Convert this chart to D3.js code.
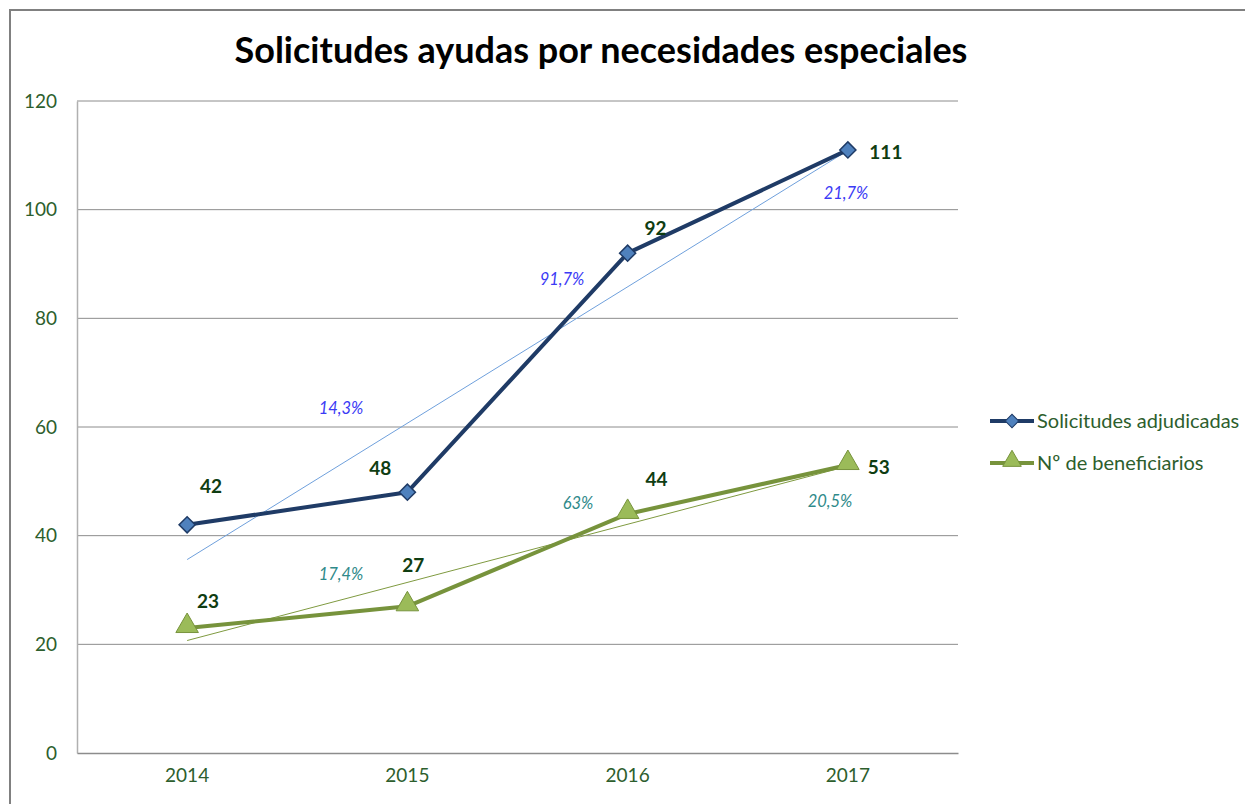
<!DOCTYPE html>
<html><head><meta charset="utf-8">
<script src="https://cdn.jsdelivr.net/npm/d3@7"></script>
<style>body{margin:0;background:#fff}svg{display:block}</style>
</head><body>
<svg id="c" width="1245" height="804"></svg>
<script>
const years = ["2014","2015","2016","2017"];
const solicitudes = [42, 48, 92, 111];
const beneficiarios = [23, 27, 44, 53];
const yTicks = [0, 20, 40, 60, 80, 100, 120];
// trend lines (value at first and last category)
const trendSolic = [35.6, 110.9];
const trendBenef = [20.7, 52.8];
// growth labels
const growthSolic = ["14,3%", "91,7%", "21,7%"];
const growthBenef = ["17,4%", "63%", "20,5%"];
const seriesNames = ["Solicitudes adjudicadas", "Nº de beneficiarios"];

const svg = d3.select("#c");
const font = "Lato, 'Open Sans', sans-serif";
const plotL = 77, plotR = 958, plotT = 101, plotB = 753;

// outer border
svg.append("rect").attr("x",10).attr("y",10).attr("width",1260).attr("height",820)
  .attr("fill","#fff").attr("stroke","#808080").attr("stroke-width",2);

svg.append("text").attr("x",601).attr("y",63).attr("text-anchor","middle")
  .attr("font-family",font).attr("font-weight","bold").attr("font-size",36).attr("fill","#000")
  .text("Solicitudes ayudas por necesidades especiales");

const x = d3.scaleBand().domain(years).range([plotL, plotR]);
const y = d3.scaleLinear().domain([0,120]).range([plotB, plotT]);
const cx = d => x(d) + x.bandwidth()/2;

// gridlines
svg.append("g").selectAll("line").data(yTicks.filter(t=>t>0)).join("line")
  .attr("x1",plotL).attr("x2",plotR).attr("y1",d=>y(d)).attr("y2",d=>y(d))
  .attr("stroke","#8c8c8c").attr("stroke-width",1);

// axes
const yAxis = svg.append("g").attr("transform",`translate(${plotL},0)`)
  .call(d3.axisLeft(y).tickValues(yTicks).tickSize(0).tickPadding(20));
yAxis.select(".domain").attr("stroke","#b0b0b0").attr("stroke-width",1.5);
yAxis.selectAll("text").attr("font-family",font).attr("font-size",19).attr("fill","#2d5e2d");

const xAxis = svg.append("g").attr("transform",`translate(0,${plotB})`)
  .call(d3.axisBottom(x).tickSize(0).tickPadding(16));
xAxis.select(".domain").attr("stroke","#8c8c8c").attr("stroke-width",1.5);
xAxis.selectAll("text").attr("font-family",font).attr("font-size",19).attr("fill","#2d5e2d");

// trend lines
svg.append("line").attr("x1",cx(years[0])).attr("x2",cx(years[3]))
  .attr("y1",y(trendSolic[0])).attr("y2",y(trendSolic[1]))
  .attr("stroke","#6fa0dc").attr("stroke-width",1);
svg.append("line").attr("x1",cx(years[0])).attr("x2",cx(years[3]))
  .attr("y1",y(trendBenef[0])).attr("y2",y(trendBenef[1]))
  .attr("stroke","#7f9a40").attr("stroke-width",1);

const line = d3.line().x((d,i)=>cx(years[i])).y(d=>y(d));
svg.append("path").datum(solicitudes).attr("d",line).attr("fill","none")
  .attr("stroke","#1f3b66").attr("stroke-width",4).attr("stroke-linejoin","round");
svg.append("path").datum(beneficiarios).attr("d",line).attr("fill","none")
  .attr("stroke","#77933c").attr("stroke-width",4).attr("stroke-linejoin","round");

svg.append("g").selectAll("path").data(solicitudes).join("path")
  .attr("transform",(d,i)=>`translate(${cx(years[i])},${y(d)}) rotate(45)`)
  .attr("d",d3.symbol().type(d3.symbolSquare).size(130))
  .attr("fill","#4f81bd").attr("stroke","#1f3b66").attr("stroke-width",1.5);
const tri = d3.symbol().type(d3.symbolTriangle).size(220);
svg.append("g").selectAll("path").data(beneficiarios).join("path")
  .attr("transform",(d,i)=>`translate(${cx(years[i])},${y(d)-2})`)
  .attr("d",tri).attr("fill","#9bbb59").attr("stroke","#77933c").attr("stroke-width",1);

// data labels (offsets in px relative to point)
const offS = [[24,-32],[-27,-17],[28,-18],[38,9]];
const offB = [[21,-20],[6,-34],[29,-28],[31,9]];
const lab = (arr, off) => svg.append("g").selectAll("text").data(arr).join("text")
  .attr("x",(d,i)=>cx(years[i])+off[i][0]).attr("y",(d,i)=>y(d)+off[i][1])
  .attr("text-anchor","middle").attr("font-family",font).attr("font-weight","bold")
  .attr("font-size",19).attr("fill","#0f3d12").text(d=>d);
lab(solicitudes, offS);
lab(beneficiarios, offB);

// growth labels
const gPosS = [[341,414],[562,285],[846,199]];
const gPosB = [[341,580],[578,509],[830,507]];
const glab = (arr,pos,col) => svg.append("g").selectAll("text").data(arr).join("text")
  .attr("x",(d,i)=>pos[i][0]).attr("y",(d,i)=>pos[i][1]).attr("text-anchor","middle")
  .attr("font-family",font).attr("font-style","italic").attr("font-size",16.5).attr("fill",col).text(d=>d);
glab(growthSolic, gPosS, "#3b3bf5");
glab(growthBenef, gPosB, "#2f8a8a");

// legend
const leg = svg.append("g");
const legY = [421, 463];
const legCol = ["#1f3b66","#77933c"];
seriesNames.forEach((n,i)=>{
  leg.append("line").attr("x1",990).attr("x2",1034).attr("y1",legY[i]).attr("y2",legY[i])
    .attr("stroke",legCol[i]).attr("stroke-width",4);
  if(i===0){
    leg.append("path").attr("transform",`translate(1012,${legY[i]}) rotate(45)`)
      .attr("d",d3.symbol().type(d3.symbolSquare).size(90)).attr("fill","#4f81bd").attr("stroke","#1f3b66");
  } else {
    leg.append("path").attr("transform",`translate(1012,${legY[i]-2})`)
      .attr("d",d3.symbol().type(d3.symbolTriangle).size(150)).attr("fill","#9bbb59").attr("stroke","#77933c");
  }
  leg.append("text").attr("x",1037).attr("y",legY[i]+7).attr("font-family",font)
    .attr("font-size",20).attr("fill","#2d5e2d").text(n);
});
</script>
</body></html>
